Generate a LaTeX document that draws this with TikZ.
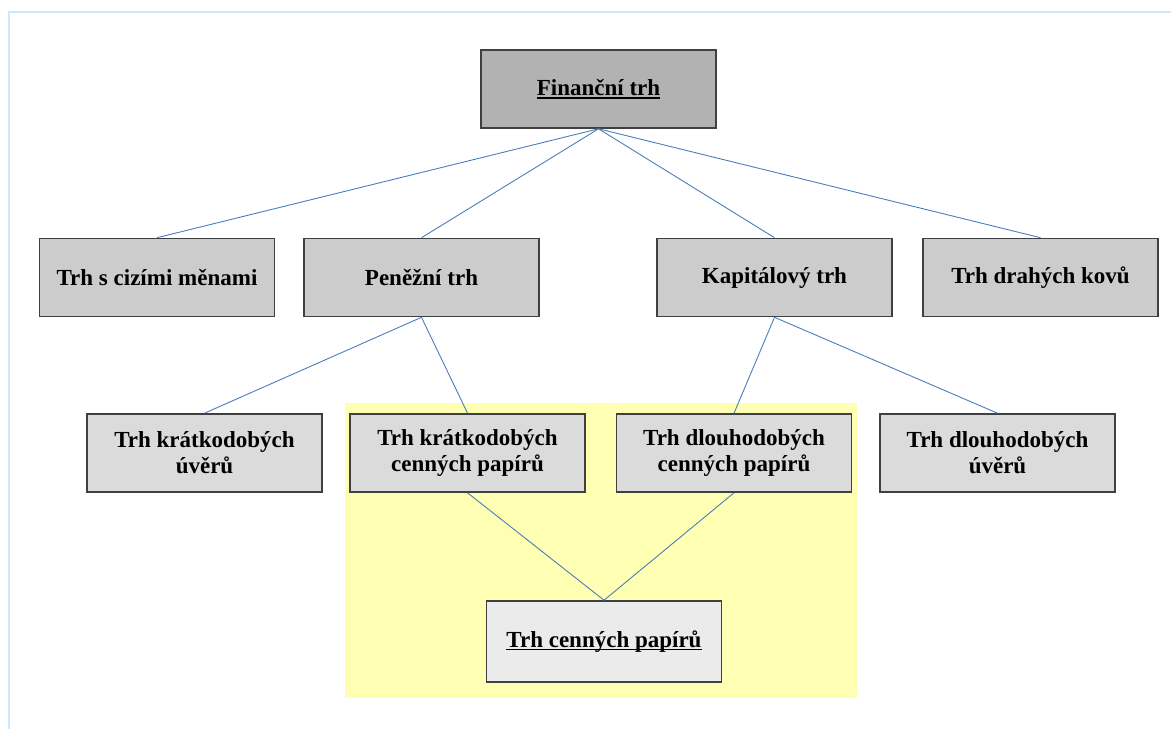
\documentclass[tikz,border=0pt]{standalone}
\usepackage{fontspec}
\setmainfont{Liberation Serif}
\usepackage{xcolor}
\usepackage{tikz}
\definecolor{frameblue}{HTML}{CCE8FF}
\definecolor{linkblue}{HTML}{4A7EBB}
\definecolor{paleyellow}{HTML}{FFFFB4}
\definecolor{edgegray}{HTML}{404040}
\newcommand{\ulword}[1]{\setbox0\hbox{#1}\rlap{\rule[-3pt]{\wd0}{1.5pt}}\box0}

\begin{document}
\begin{tikzpicture}[x=1pt,y=-1pt,
  box/.style={draw=edgegray,line width=1.6pt,minimum width=235pt,minimum height=78pt,
    inner sep=0pt,align=center,font=\fontsize{23}{26}\selectfont\bfseries},
  link/.style={draw=linkblue,line width=0.9pt}]
\useasboundingbox (0,0) rectangle (1171,729);
% page frame and highlighted area
\draw[frameblue,line width=2pt] (9,729) -- (9,12) -- (1171,12);
\fill[paleyellow] (345,403) rectangle (857,698);
% top level
\node[box,fill=black!30] (fin) at (598.5,89) {\ulword{Finanční trh}};
% second level
\node[box,fill=black!20] (cizi) at (157,277.5) {Trh s cizími měnami};
\node[box,fill=black!20] (penez) at (421.5,277.5) {Peněžní trh};
\node[box,fill=black!20] (kapit) at (774.5,277.5) {Kapitálový trh};
\node[box,fill=black!20] (kovy) at (1040.5,277.5) {Trh drahých kovů};
% third level
\node[box,fill=black!14] (kruv) at (204.5,453) {Trh krátkodobých\\úvěrů};
\node[box,fill=black!14] (krcp) at (467.5,453) {Trh krátkodobých\\cenných papírů};
\node[box,fill=black!14] (dlcp) at (734,453) {Trh dlouhodobých\\cenných papírů};
\node[box,fill=black!14] (dluv) at (997.5,453) {Trh dlouhodobých\\úvěrů};
% bottom
\node[box,fill=black!8,minimum height=81pt] (cp) at (604,641.5) {\ulword{Trh cenných papírů}};
% links
\draw[link] (fin.south) -- (cizi.north);
\draw[link] (fin.south) -- (penez.north);
\draw[link] (fin.south) -- (kapit.north);
\draw[link] (fin.south) -- (kovy.north);
\draw[link] (penez.south) -- (kruv.north);
\draw[link] (penez.south) -- (krcp.north);
\draw[link] (kapit.south) -- (dlcp.north);
\draw[link] (kapit.south) -- (dluv.north);
\draw[link] (krcp.south) -- (cp.north);
\draw[link] (dlcp.south) -- (cp.north);
\end{tikzpicture}
\end{document}
